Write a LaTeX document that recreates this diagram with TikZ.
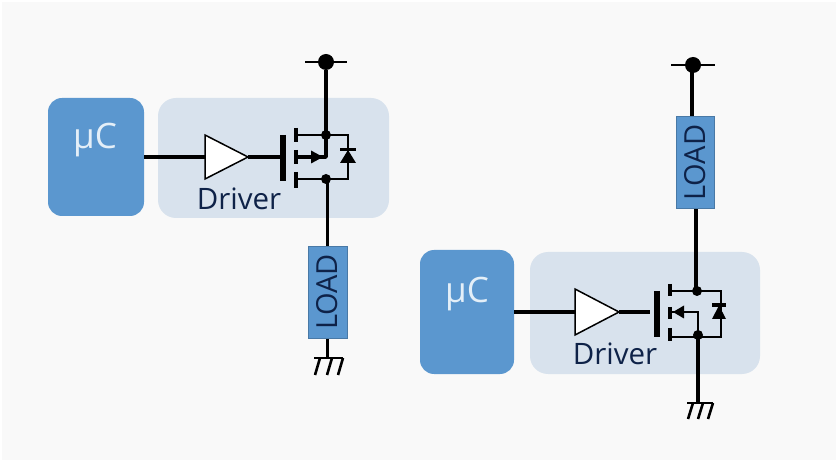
\documentclass[tikz,border=0pt]{standalone}
\usepackage{fontspec}
\setmainfont{Open Sans}
\usetikzlibrary{positioning}
\definecolor{chipblue}{HTML}{5B97CF}
\definecolor{drivergrey}{HTML}{D8E2ED}
\definecolor{pagegrey}{HTML}{F9F9F9}
\definecolor{inktext}{HTML}{0E2248}
\definecolor{chiptext}{HTML}{E4EFF8}
\tikzset{
  wire/.style={line width=3.4pt},
  thinwire/.style={line width=2.6pt},
  gatebar/.style={line width=5.6pt},
  channel/.style={line width=3.2pt},
  chipbox/.style={fill=chipblue, rounded corners=14pt, inner sep=0pt},
  driverbox/.style={fill=drivergrey, rounded corners=18pt, inner sep=0pt},
  loadbox/.style={fill=chipblue, draw=chipblue!80!black, line width=0.4pt, minimum height=92pt, inner sep=0pt},
  amp/.style={draw, fill=white, line width=1.5pt, line join=miter},
  dot/.style={circle, fill=black, inner sep=0pt, minimum size=#1},
  chiplabel/.style={font=\fontsize{35}{38}\selectfont, text=chiptext, anchor=base, inner sep=0pt},
  drivelabel/.style={font=\fontsize{29.5}{32}\selectfont, text=inktext, anchor=base, inner sep=0pt},
  loadlabel/.style={font=\fontsize{29}{32}\selectfont, text=inktext, rotate=90}
}
\begin{document}
\begin{tikzpicture}[x=1pt, y=-1pt]
  \useasboundingbox (0, 0) rectangle (838, 462);
  \fill[white] (0, 0) rectangle (838, 462);
  \fill[pagegrey] (2, 2) rectangle (836, 460);

  % left circuit
  \node[driverbox, minimum width=231pt, minimum height=120pt] (drvL) at (273.5, 158) {};
  \node[chipbox, minimum width=96pt, minimum height=118pt] (mcuL) at (96, 157) {};
  \node[chiplabel] (mcuLtext) at (95, 149) {µC};
  \node[drivelabel] (drvLtext) at (239, 210) {Driver};
  \coordinate (inL) at (205, 157);
  \coordinate (tipL) at (248, 157);
  \coordinate (gateL) at (283, 157);
  \coordinate (gateLa) at (283, 135);
  \coordinate (gateLb) at (283, 181);
  \coordinate (srcLa) at (296, 128);
  \coordinate (srcLb) at (296, 142);
  \coordinate (midLa) at (296, 150);
  \coordinate (midLb) at (296, 164);
  \coordinate (drnLa) at (296, 172);
  \coordinate (drnLb) at (296, 188);
  \coordinate (topL) at (296, 135);
  \coordinate (cenL) at (296, 157);
  \coordinate (botL) at (296, 179);
  \coordinate (joinLa) at (326, 135);
  \coordinate (joinLm) at (326, 157);
  \coordinate (joinLb) at (326, 179);
  \coordinate (sideLa) at (348, 135);
  \coordinate (sideLb) at (348, 179);
  \node[dot=16pt] (vccL) at (326, 62) {};
  \coordinate (railLa) at (305, 62);
  \coordinate (railLb) at (347, 62);
  \coordinate (gndL) at (327.5, 358);
  \coordinate (gndLa) at (314, 358);
  \coordinate (gndLb) at (343, 358);
  \coordinate (feedL) at (327.5, 179);

  \draw[wire] (mcuL.east |- inL) -- (inL);
  \draw[wire] (tipL) -- (gateL);
  \draw[amp] (205, 135) -- (tipL) -- (205, 179) -- cycle;
  \draw[gatebar] (gateLa) -- (gateLb);
  \draw[channel] (srcLa) -- (srcLb);
  \draw[channel] (midLa) -- (midLb);
  \draw[channel] (drnLa) -- (drnLb);
  \draw[thinwire] (topL) -- (sideLa) -- (sideLb) -- (botL);
  \draw[wire, line join=round] (cenL) -- (joinLm) -- (joinLa);
  \fill (311, 150.5) -- (323, 157) -- (311, 163.5) -- cycle;
  \draw[wire] (vccL) -- (joinLa);
  \draw[thinwire] (railLa) -- (railLb);
  \draw[wire] (feedL) -- (gndL);
  \fill (joinLa) circle (5pt);
  \fill (joinLb) circle (5pt);
  \draw[wire] (340, 149.5) -- (356, 149.5);
  \fill (348, 150) -- (356, 163) -- (340, 163) -- cycle;
  \draw[thinwire] (gndLa) -- (gndLb);
  \draw[thinwire] (320, 358) -- (315, 375);
  \draw[thinwire] (332, 358) -- (327, 375);
  \draw[thinwire] (343, 358) -- (338, 375);
  \node[loadbox, minimum width=39pt] (loadL) at (327.5, 292) {};
  \node[loadlabel] (loadLtext) at (loadL) {LOAD};

  % right circuit
  \node[driverbox, minimum width=230pt, minimum height=122pt] (drvR) at (645, 313) {};
  \node[chipbox, minimum width=94pt, minimum height=124pt] (mcuR) at (467, 312) {};
  \node[chiplabel] (mcuRtext) at (467, 303) {µC};
  \node[drivelabel] (drvRtext) at (615, 364) {Driver};
  \coordinate (inR) at (575, 312);
  \coordinate (tipR) at (619, 312);
  \coordinate (gateR) at (650, 312);
  \coordinate (gateRa) at (657, 291);
  \coordinate (gateRb) at (657, 337);
  \coordinate (srcRa) at (670, 284);
  \coordinate (srcRb) at (670, 296);
  \coordinate (midRa) at (670, 307);
  \coordinate (midRb) at (670, 319);
  \coordinate (drnRa) at (670, 328);
  \coordinate (drnRb) at (670, 341);
  \coordinate (topR) at (670, 291);
  \coordinate (cenR) at (670, 312);
  \coordinate (botR) at (670, 337);
  \coordinate (joinRa) at (697, 291);
  \coordinate (joinRm) at (698, 312);
  \coordinate (joinRb) at (698, 335);
  \coordinate (sideRa) at (721, 291);
  \coordinate (sideRb) at (721, 337);
  \node[dot=16pt] (vccR) at (693, 65) {};
  \coordinate (railRa) at (671, 65);
  \coordinate (railRb) at (715, 65);
  \coordinate (loadRin) at (692, 116);
  \coordinate (loadRout) at (696, 209);
  \coordinate (gndR) at (698, 403);
  \coordinate (gndRa) at (687, 403);
  \coordinate (gndRb) at (713, 403);

  \draw[wire] (mcuR.east |- inR) -- (inR);
  \draw[wire] (tipR) -- (gateR);
  \draw[amp] (575, 289) -- (tipR) -- (575, 335) -- cycle;
  \draw[gatebar] (gateRa) -- (gateRb);
  \draw[channel] (srcRa) -- (srcRb);
  \draw[channel] (midRa) -- (midRb);
  \draw[channel] (drnRa) -- (drnRb);
  \draw[thinwire] (topR) -- (sideRa) -- (sideRb) -- (botR);
  \draw[thinwire] (cenR) -- (joinRm) -- (joinRb);
  \fill (684, 305.5) -- (673, 312) -- (684, 318.5) -- cycle;
  \draw[wire] (vccR.center -| loadRin) -- (loadRin);
  \draw[thinwire] (railRa) -- (railRb);
  \draw[wire] (loadRout) -- (loadRout |- joinRa);
  \draw[wire] (joinRb) -- (gndR);
  \fill (joinRa) circle (5pt);
  \fill (joinRb) circle (5pt);
  \draw[wire] (712, 305) -- (726, 305);
  \fill (719, 305.5) -- (726, 319) -- (712, 319) -- cycle;
  \draw[thinwire] (gndRa) -- (gndRb);
  \draw[thinwire] (693, 403) -- (688, 419);
  \draw[thinwire] (703, 403) -- (698, 419);
  \draw[thinwire] (713, 403) -- (708, 419);
  \node[loadbox, minimum width=38pt] (loadR) at (695, 162.5) {};
  \node[loadlabel] (loadRtext) at (loadR) {LOAD};
\end{tikzpicture}
\end{document}
